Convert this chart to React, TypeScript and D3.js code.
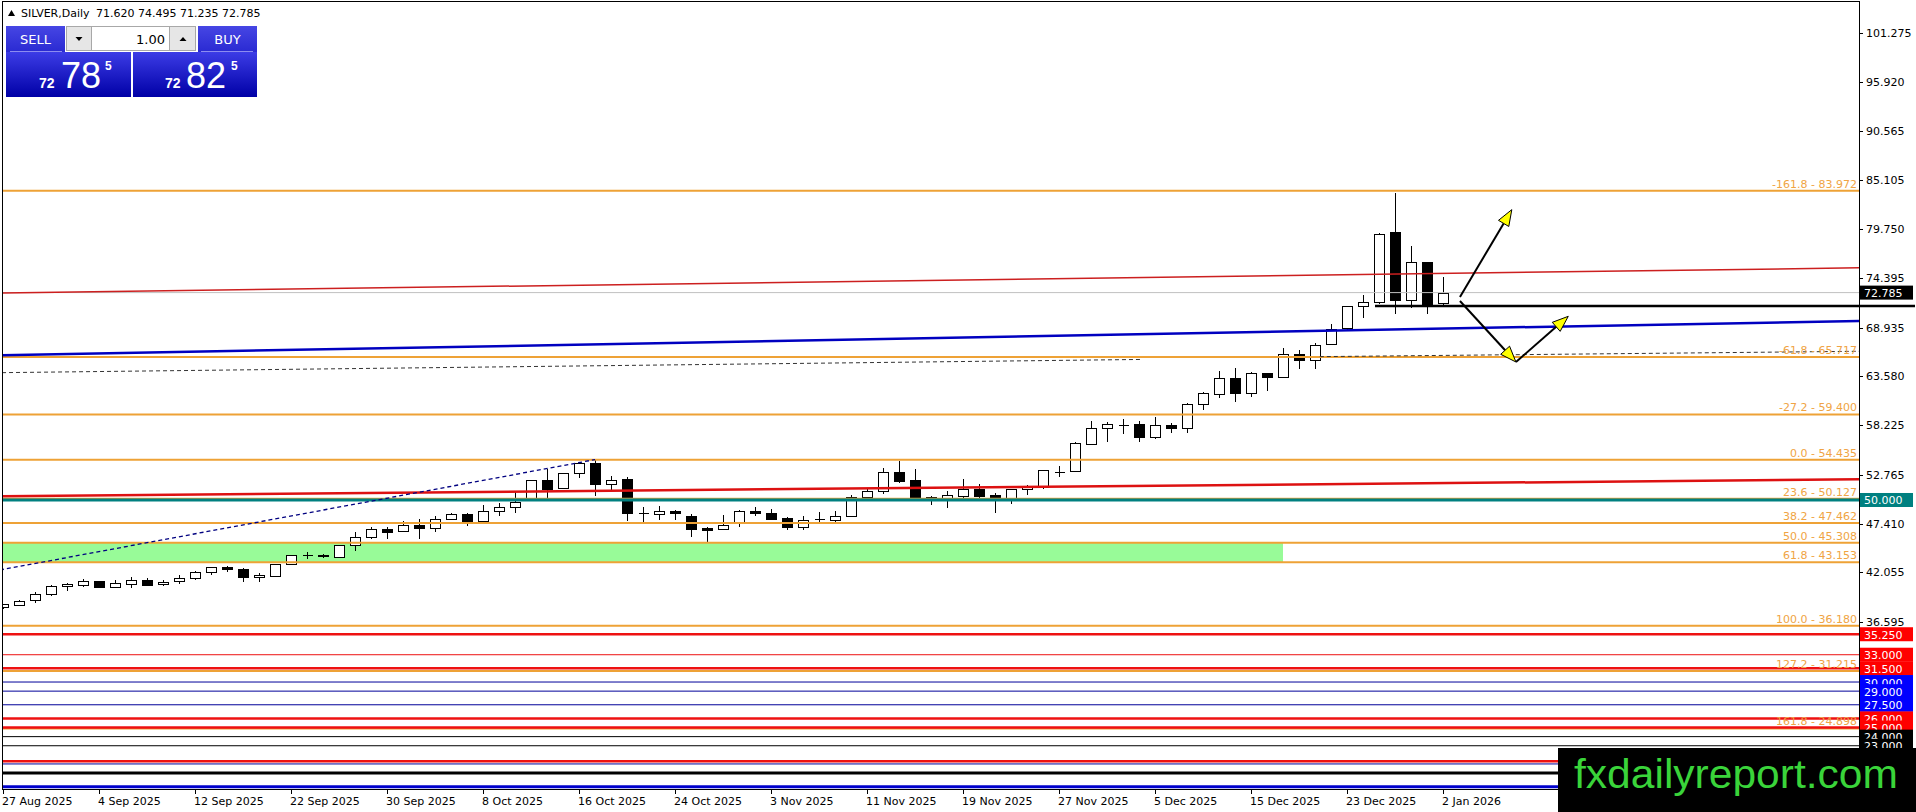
import React from 'react';
import * as d3 from 'd3';

// daily candles, 27 Aug 2025 .. 2 Jan 2026 : [open, high, low, close]
const candles: [number, number, number, number][] = [
  [38.2, 38.6, 38.0, 38.55], [38.43, 39.0, 38.4, 38.94], [38.98, 39.86, 38.65, 39.64], [39.64, 40.7, 39.4, 40.59],
  [40.55, 40.85, 40.0, 40.77], [40.69, 41.3, 40.48, 41.1], [41.07, 41.1, 40.3, 40.48], [40.48, 41.2, 40.3, 40.85],
  [40.77, 41.57, 40.37, 41.2], [41.17, 41.4, 40.6, 40.69], [40.74, 41.2, 40.5, 41.0], [41.07, 41.76, 40.77, 41.46],
  [41.4, 42.2, 41.2, 42.05], [42.1, 42.65, 41.76, 42.6], [42.64, 42.8, 42.1, 42.38], [42.42, 42.58, 41.03, 41.5],
  [41.5, 41.95, 40.96, 41.76], [41.68, 42.95, 41.5, 42.93], [42.97, 44.0, 42.9, 43.96], [43.92, 44.28, 43.48, 43.92],
  [43.95, 44.05, 43.6, 43.83], [43.77, 45.1, 43.62, 45.02], [45.02, 46.5, 44.4, 45.9], [45.97, 46.99, 45.7, 46.8],
  [46.85, 47.0, 45.7, 46.52], [46.59, 47.69, 46.45, 47.25], [47.25, 47.91, 45.7, 46.88], [46.92, 48.24, 46.52, 47.88],
  [47.91, 48.6, 47.9, 48.46], [48.42, 48.6, 47.18, 47.72], [47.72, 49.45, 47.7, 48.82], [48.76, 49.7, 48.24, 49.2],
  [49.2, 50.84, 48.6, 49.81], [50.18, 52.2, 50.1, 52.19], [52.19, 53.36, 50.25, 51.24], [51.28, 53.0, 51.2, 52.93],
  [52.93, 54.1, 52.38, 54.03], [54.09, 54.44, 50.47, 51.72], [51.72, 52.63, 51.09, 52.16], [52.27, 52.56, 47.69, 48.53],
  [48.6, 49.2, 47.5, 48.6], [48.47, 49.3, 47.8, 48.79], [48.79, 48.85, 47.8, 48.53], [48.27, 48.45, 45.96, 46.78],
  [46.9, 47.07, 45.42, 46.75], [46.85, 48.3, 46.8, 47.25], [47.5, 48.85, 47.07, 48.79], [48.79, 49.2, 48.27, 48.53],
  [48.57, 49.0, 47.8, 47.94], [47.98, 48.1, 46.7, 46.99], [46.99, 48.2, 46.7, 47.83], [47.86, 48.7, 47.5, 47.86],
  [47.83, 48.78, 47.6, 48.2], [48.2, 50.55, 48.1, 50.36], [50.36, 51.17, 50.18, 51.02], [51.02, 53.47, 50.65, 53.1],
  [53.1, 54.31, 51.9, 52.11], [52.16, 53.36, 50.18, 50.36], [50.36, 50.4, 49.4, 50.18], [50.11, 51.02, 49.15, 50.55],
  [50.47, 52.27, 50.18, 51.17], [51.17, 51.72, 50.18, 50.47], [50.55, 50.73, 48.54, 50.25], [50.18, 51.2, 49.6, 51.17],
  [51.24, 51.64, 50.55, 51.46], [51.46, 53.3, 51.2, 53.26], [53.1, 53.7, 52.55, 53.1], [53.21, 56.35, 53.1, 56.22],
  [56.11, 58.67, 56.05, 57.87], [57.87, 58.6, 56.4, 58.31], [58.2, 58.85, 57.3, 58.2], [58.31, 58.67, 56.33, 56.94],
  [56.94, 59.14, 56.73, 58.2], [58.2, 58.5, 57.4, 57.93], [57.93, 60.68, 57.4, 60.5], [60.5, 61.89, 59.88, 61.71],
  [61.6, 64.16, 61.23, 63.36], [63.36, 64.46, 60.72, 61.78], [61.71, 64.1, 61.27, 63.9], [63.97, 64.0, 62.0, 63.53],
  [63.53, 66.65, 63.45, 66.03], [66.03, 66.47, 64.4, 65.33], [65.33, 67.3, 64.35, 67.0], [67.09, 69.3, 67.0, 68.8],
  [68.85, 71.35, 68.6, 71.3], [71.27, 72.5, 70.05, 71.7], [71.7, 79.3, 71.5, 79.17], [79.42, 83.74, 70.39, 71.92],
  [71.92, 77.89, 71.05, 76.1], [76.13, 76.2, 70.39, 71.37], [71.62, 74.495, 71.235, 72.785],
];

const dateLabels = [
  '27 Aug 2025', '4 Sep 2025', '12 Sep 2025', '22 Sep 2025', '30 Sep 2025', '8 Oct 2025', '16 Oct 2025', '24 Oct 2025',
  '3 Nov 2025', '11 Nov 2025', '19 Nov 2025', '27 Nov 2025', '5 Dec 2025', '15 Dec 2025', '23 Dec 2025', '2 Jan 2026',
];
const dateLabelBars = [0, 6, 12, 18, 24, 30, 36, 42, 48, 54, 60, 66, 72, 78, 84, 90];

const priceTicks = [101.275, 95.92, 90.565, 85.105, 79.75, 74.395, 68.935, 63.58, 58.225, 52.765, 47.41, 42.055, 36.595];

const fibRatios = [-161.8, -61.8, -27.2, 0.0, 23.6, 38.2, 50.0, 61.8, 100.0, 127.2, 161.8];
const fibPrices = [83.972, 65.717, 59.4, 54.435, 50.127, 47.462, 45.308, 43.153, 36.18, 31.215, 24.898];

const redLevels = [35.25, 33.0, 31.5, 26.0, 25.0, 21.3];
const blueLevels = [30.0, 29.0, 27.5, 21.0, 18.5];
const blackLevels = [24.0, 23.0, 20.0];
const tealLevel = 50.0;
const lastPrice = 72.785;
const titleOhlc = '71.620 74.495 71.235 72.785';

// trend lines as [bar, price] anchors
const upperRedLine: [number, number][] = [[-0.06, 72.74], [116, 75.51]];
const lowerRedLine: [number, number][] = [[-0.06, 50.41], [116, 52.27]];
const blueTrend: [number, number][] = [[-0.06, 65.9], [116, 69.67]];
const navyTrend: [number, number][] = [[-0.19, 42.31], [37, 54.435]];
const slowAverageA: [number, number][] = [[-0.06, 63.99], [71.06, 65.44]];
const slowAverageB: [number, number][] = [[82.3, 65.75], [116, 66.34]];
const pivotLine: [number, number][] = [[85.75, 71.3], [119.5, 71.3]];
const rectZone = { from: -1, to: 80, top: 45.308, bottom: 43.153 };

const arrowUp: [number, number][] = [[91.06, 72.3], [94.3, 81.9]];
const arrowDown: [number, number][] = [[91.06, 71.86], [94.56, 65.16]];
const arrowBack: [number, number][] = [[94.56, 65.16], [97.83, 70.18]];

const W = 1916;
const H = 812;
const PL = 2;
const PR = 1859;
const PT = 1;
const PB = 789;
const FONT = 'DejaVu Sans';
const FIB = '#eea236';

const x = d3.scaleLinear().domain([0, 90]).range([3, 1443]);
const y = d3.scaleLinear().domain([36.595, 101.275]).range([622, 33.3]);
const seg = d3.line<[number, number]>().x(d => x(d[0])).y(d => y(d[1]));

function Arrow({ pts }: { pts: [number, number][] }) {
  const [x0, y0] = [x(pts[0][0]), y(pts[0][1])];
  const [x1, y1] = [x(pts[1][0]), y(pts[1][1])];
  const a = Math.atan2(y1 - y0, x1 - x0);
  const len = 16, hw = 6;
  const bx = x1 - len * Math.cos(a), by = y1 - len * Math.sin(a);
  const head = `M${x1},${y1}L${bx + hw * Math.sin(a)},${by - hw * Math.cos(a)}L${bx - hw * Math.sin(a)},${by + hw * Math.cos(a)}Z`;
  return (
    <g>
      <line x1={x0} y1={y0} x2={bx} y2={by} stroke="#000" strokeWidth={2} />
      <path d={head} fill="#ffff00" stroke="#000" strokeWidth={1} />
    </g>
  );
}

function PriceBox({ price, text, fill }: { price: number; text: string; fill: string }) {
  const py = y(price);
  return (
    <g>
      <rect x={1860} y={py - 7} width={53} height={14} fill={fill} />
      <text x={1864} y={py + 4.5} fill="#fff" fontSize={11} fontFamily={FONT}>{text}</text>
    </g>
  );
}

export default function App() {
  const thin = new Set([33.0, 30.0, 29.0, 27.5, 21.0, 24.0, 23.0]);
  return (
    <svg width={W} height={H} style={{ position: 'absolute', left: 0, top: 0, background: '#fff' }}>
      <defs>
        <clipPath id="plot"><rect x={PL} y={PT} width={PR - PL} height={PB - PT} /></clipPath>
        <linearGradient id="quote" x1="0" y1="0" x2="0" y2="1">
          <stop offset="0" stopColor="#3c3ce6" />
          <stop offset="1" stopColor="#0000a6" />
        </linearGradient>
        <linearGradient id="btn" x1="0" y1="0" x2="0" y2="1">
          <stop offset="0" stopColor="#4646e4" />
          <stop offset="1" stopColor="#2a2ad2" />
        </linearGradient>
      </defs>
      <rect x={0} y={0} width={W} height={H} fill="#fff" />

      <g clipPath="url(#plot)">
        <rect x={x(rectZone.from)} y={y(rectZone.top)} width={x(rectZone.to) - x(rectZone.from)}
          height={y(rectZone.bottom) - y(rectZone.top)} fill="#98fb98" />

        {candles.map((d, i) => {
          const [o, h, l, c] = d;
          const cx = Math.round(x(i)) + 0.5;
          const top = Math.round(y(Math.max(o, c))) + 0.5;
          const bot = Math.round(y(Math.min(o, c))) + 0.5;
          return (
            <g key={i} shapeRendering="crispEdges">
              <line x1={cx} x2={cx} y1={y(h)} y2={y(l)} stroke="#000" />
              {bot - top < 1
                ? <line x1={cx - 5} x2={cx + 5} y1={top} y2={top} stroke="#000" />
                : <rect x={cx - 5} y={top} width={10} height={bot - top} fill={c >= o ? '#fff' : '#000'} stroke="#000" />}
            </g>
          );
        })}

        {fibPrices.map(p => (
          <line key={'f' + p} x1={PL} x2={PR} y1={y(p)} y2={y(p)} stroke={FIB} strokeWidth={2} />
        ))}
        <line x1={PL} x2={PR} y1={y(lastPrice)} y2={y(lastPrice)} stroke="#c0c0c0" strokeWidth={1} />
        <line x1={PL} x2={PR} y1={y(tealLevel)} y2={y(tealLevel)} stroke="#008080" strokeWidth={3} />
        {redLevels.map(p => (
          <line key={'r' + p} x1={PL} x2={PR} y1={y(p)} y2={y(p)} stroke="#ee1111" strokeWidth={thin.has(p) ? 1 : 2.5} />
        ))}
        {blueLevels.map(p => (
          <line key={'b' + p} x1={PL} x2={PR} y1={y(p)} y2={y(p)} stroke={p === 18.5 ? '#0000cc' : '#000099'} strokeWidth={thin.has(p) ? 1 : 3} />
        ))}
        {blackLevels.map(p => (
          <line key={'k' + p} x1={PL} x2={PR} y1={y(p)} y2={y(p)} stroke="#000" strokeWidth={thin.has(p) ? 1 : 3} />
        ))}

        <path d={seg(upperRedLine) ?? ''} stroke="#cc1f1f" strokeWidth={1.5} fill="none" />
        <path d={seg(lowerRedLine) ?? ''} stroke="#dd1111" strokeWidth={2.5} fill="none" />
        <path d={seg(blueTrend) ?? ''} stroke="#0000c0" strokeWidth={2.5} fill="none" />
        <path d={seg(navyTrend) ?? ''} stroke="#000080" strokeWidth={1.3} strokeDasharray="4,3" fill="none" />
        <path d={seg(slowAverageA) ?? ''} stroke="#333" strokeWidth={1} strokeDasharray="4,3" fill="none" />
        <path d={seg(slowAverageB) ?? ''} stroke="#333" strokeWidth={1} strokeDasharray="4,3" fill="none" />

        {fibPrices.map((p, k) => (
          <text key={'ft' + p} x={1857} y={y(p) - 3} textAnchor="end" fill="#f0a444" fontSize={11} fontFamily={FONT}>
            {`${fibRatios[k].toFixed(1)} - ${p.toFixed(3)}`}
          </text>
        ))}

        <Arrow pts={arrowUp} />
        <Arrow pts={arrowDown} />
        <Arrow pts={arrowBack} />
      </g>

      {/* frame and axes */}
      <g shapeRendering="crispEdges" stroke="#000">
        <line x1={PL + 0.5} x2={PL + 0.5} y1={PT} y2={PB} />
        <line x1={PL} x2={PR} y1={PT + 0.5} y2={PT + 0.5} />
        <line x1={PR + 0.5} x2={PR + 0.5} y1={PT} y2={PB} />
        <line x1={PL} x2={PR} y1={PB + 0.5} y2={PB + 0.5} />
        {priceTicks.map(v => (
          <line key={'pt' + v} x1={PR} x2={PR + 4} y1={Math.round(y(v)) + 0.5} y2={Math.round(y(v)) + 0.5} />
        ))}
        {dateLabelBars.map(b => (
          <line key={'dt' + b} x1={Math.round(x(b)) + 0.5} x2={Math.round(x(b)) + 0.5} y1={PB} y2={PB + 5} />
        ))}
      </g>
      {priceTicks.map(v => (
        <text key={'pl' + v} x={1866} y={y(v) + 4} fontSize={11} fontFamily={FONT} fill="#000">{v.toFixed(3)}</text>
      ))}
      {dateLabels.map((t, k) => (
        <text key={t} x={x(dateLabelBars[k]) - 1} y={805} fontSize={11} fontFamily={FONT} fill="#000">{t}</text>
      ))}

      {/* level price labels on the axis */}
      <PriceBox price={lastPrice} text={lastPrice.toFixed(3)} fill="#000" />
      <PriceBox price={tealLevel} text={tealLevel.toFixed(3)} fill="#008080" />
      {[...redLevels.slice(0, 5).map(p => ({ p, f: '#ff0000' })), ...blueLevels.slice(0, 3).map(p => ({ p, f: '#0000ff' })),
        ...blackLevels.slice(0, 2).map(p => ({ p, f: '#000' }))]
        .sort((a, b) => b.p - a.p)
        .map(({ p, f }) => <PriceBox key={'pb' + p} price={p} text={p.toFixed(3)} fill={f} />)}

      <path d={seg(pivotLine) ?? ''} stroke="#000" strokeWidth={2.5} fill="none" />

      {/* title and one-click panel */}
      <path d="M8,16 L11.5,10 L15,16 Z" fill="#000" />
      <text x={21} y={17} fontSize={11} fontFamily={FONT} fill="#000">SILVER,Daily</text>
      <text x={96} y={17} fontSize={11} fontFamily={FONT} fill="#000">{titleOhlc}</text>

      <rect x={6} y={26} width={59} height={26} fill="url(#btn)" />
      <line x1={10} x2={62} y1={51.5} y2={51.5} stroke="#8c8cf0" />
      <text x={35.5} y={44} textAnchor="middle" fill="#fff" fontSize={13} fontFamily={FONT}>SELL</text>
      <rect x={66.5} y={26.5} width={25} height={24} fill="#e6e6e6" stroke="#a8a8a8" />
      <path d="M75.5,37 L82.5,37 L79,41 Z" fill="#000" />
      <rect x={91.5} y={26.5} width={78} height={24} fill="#fff" stroke="#a8a8a8" />
      <text x={165} y={44} textAnchor="end" fill="#000" fontSize={13} fontFamily={FONT}>1.00</text>
      <rect x={169.5} y={26.5} width={26} height={24} fill="#e6e6e6" stroke="#a8a8a8" />
      <path d="M179.5,41 L186.5,41 L183,37 Z" fill="#000" />
      <rect x={198} y={26} width={59} height={26} fill="url(#btn)" />
      <line x1={201} x2={253} y1={51.5} y2={51.5} stroke="#8c8cf0" />
      <text x={227.5} y={44} textAnchor="middle" fill="#fff" fontSize={13} fontFamily={FONT}>BUY</text>

      <rect x={6} y={52} width={125} height={45} fill="url(#quote)" />
      <rect x={133} y={52} width={124} height={45} fill="url(#quote)" />
      <text x={39} y={87.5} fill="#fff" fontSize={14} fontWeight="bold" fontFamily="Liberation Sans">72</text>
      <text x={61} y={87.5} fill="#fff" fontSize={36} fontFamily="Liberation Sans">78</text>
      <text x={105} y={70} fill="#fff" fontSize={12} fontWeight="bold" fontFamily="Liberation Sans">5</text>
      <text x={165} y={87.5} fill="#fff" fontSize={14} fontWeight="bold" fontFamily="Liberation Sans">72</text>
      <text x={186} y={87.5} fill="#fff" fontSize={36} fontFamily="Liberation Sans">82</text>
      <text x={231} y={70} fill="#fff" fontSize={12} fontWeight="bold" fontFamily="Liberation Sans">5</text>

      {/* watermark */}
      <rect x={1558} y={748} width={W - 1558} height={H - 748} fill="#000" />
      <text x={1574} y={788} fill="#3ad43a" fontSize={40} fontFamily="Liberation Sans Narrow, Liberation Sans"
        textLength={324} lengthAdjust="spacingAndGlyphs">fxdailyreport.com</text>
    </svg>
  );
}
